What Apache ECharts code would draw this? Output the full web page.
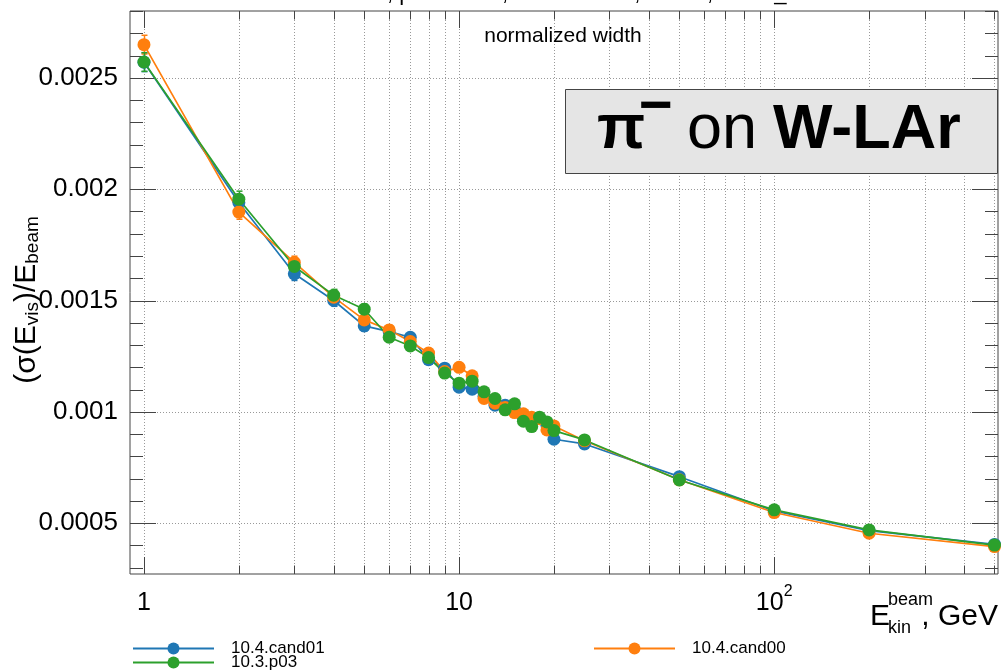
<!DOCTYPE html>
<html><head><meta charset="utf-8">
<script src="https://cdn.jsdelivr.net/npm/echarts@6/dist/echarts.min.js"></script>
<style>html,body{margin:0;padding:0;background:#fff}#c{width:1002px;height:670px}</style>
</head><body><div id="c"></div>
<script>
// ---- data ----
const energies = [1,2,3,4,5,6,7,8,9,10,11,12,13,14,15,16,17,18,19,20,25,50,100,200,500];
const cand01 = [0.00257,0.00194,0.00162,0.00150,0.001386,0.00136,0.001335,0.001234,0.001196,0.001111,0.001102,0.00107,0.00103,0.00103,0.00101,0.00097,0.00096,0.00097,0.00094,0.000877,0.000856,0.000709,0.000555,0.000467,0.000405];
const cand00 = [0.002649,0.001897,0.001671,0.001515,0.001413,0.001368,0.001316,0.001264,0.001181,0.0012,0.001162,0.00106,0.001039,0.00102,0.000997,0.000991,0.000976,0.000969,0.000919,0.000937,0.00087,0.000695,0.000548,0.000455,0.000395];
const p03 = [0.002571,0.001955,0.001653,0.001524,0.001461,0.001335,0.001296,0.001244,0.001174,0.001129,0.001138,0.00109,0.00106,0.001009,0.001036,0.000958,0.000934,0.000976,0.000955,0.000916,0.000874,0.000694,0.00056,0.00047,0.000402];
const err01 = [0.000042,0.000036,0.00003,0.000026,0.000024,0.000022,0.00002,0.000019,0.000018,0.000017,0.000017,0.000016,0.000016,0.000015,0.000015,0.000015,0.000014,0.000014,0.000014,0.000013,0.000012,0.00001,0.000008,0.000007,0.000006];
const err00 = [0.000042,0.000032,0.000028,0.000026,0.000024,0.000022,0.00002,0.000019,0.000018,0.000017,0.000017,0.000016,0.000016,0.000015,0.000015,0.000015,0.000014,0.000014,0.000014,0.000013,0.000012,0.00001,0.000008,0.000007,0.000006];
const errp03 = [0.000042,0.000036,0.00003,0.000026,0.000024,0.000022,0.00002,0.000019,0.000018,0.000017,0.000017,0.000016,0.000016,0.000015,0.000015,0.000015,0.000014,0.000014,0.000014,0.000013,0.000012,0.00001,0.000008,0.000007,0.000006];
const seriesNames = ['10.4.cand01','10.3.p03','10.4.cand00'];
const xGridValues = [1,2,3,4,5,6,7,8,9,10,20,30,40,50,60,70,80,90,100,200,300,400,500];
const yTickValues = [0.0003,0.0004,0.0005,0.0006,0.0007,0.0008,0.0009,0.001,0.0011,0.0012,0.0013,0.0014,0.0015,0.0016,0.0017,0.0018,0.0019,0.002,0.0021,0.0022,0.0023,0.0024,0.0025,0.0026,0.0027,0.0028];
const yMajorStep = 0.0005;
const X_MIN = 0.903, X_MAX = 513, Y_MIN = 0.000272, Y_MAX = 0.0028;

const FONT = 'Liberation Sans, Arial, Helvetica, sans-serif';
const C_BLUE = '#1f77b4', C_ORANGE = '#ff7f0e', C_GREEN = '#2ca02c';

const chart = echarts.init(document.getElementById('c'), null, {renderer: 'canvas'});

function px(v){ return Math.round(v) + 0.5; }

function renderXGrid(params, api){
  const v = api.value(0);
  const p = api.coord([v, Y_MIN]);
  const cs = params.coordSys;
  const x = px(p[0]);
  const top = cs.y, bot = cs.y + cs.height;
  const lg = Math.log10(v);
  const major = Math.abs(lg - Math.round(lg)) < 1e-9;
  const L = major ? 17 : 8.5;
  return {type: 'group', children: [
    {type: 'line', shape: {x1: x, y1: top, x2: x, y2: bot}, style: {stroke: '#999', lineWidth: 1, lineDash: [1, 2]}},
    {type: 'line', shape: {x1: x, y1: bot, x2: x, y2: bot - L}, style: {stroke: '#444', lineWidth: 1}},
    {type: 'line', shape: {x1: x, y1: top, x2: x, y2: top + L}, style: {stroke: '#444', lineWidth: 1}}
  ]};
}
function renderYGrid(params, api){
  const v = api.value(1);
  const p = api.coord([1, v]);
  const cs = params.coordSys;
  const y = px(p[1]);
  const l = cs.x, r = cs.x + cs.width;
  const k = Math.round(v / yMajorStep);
  const major = Math.abs(v - k * yMajorStep) < 1e-9;
  const L = major ? 26 : 13;
  const ch = [
    {type: 'line', shape: {x1: l, y1: y, x2: l + L, y2: y}, style: {stroke: '#444', lineWidth: 1}},
    {type: 'line', shape: {x1: r, y1: y, x2: r - L, y2: y}, style: {stroke: '#444', lineWidth: 1}}
  ];
  if (major) ch.unshift({type: 'line', shape: {x1: l, y1: y, x2: r, y2: y}, style: {stroke: '#999', lineWidth: 1, lineDash: [1, 2]}});
  return {type: 'group', children: ch};
}
function makeErr(color){
  return function(params, api){
    const x = api.value(0), y = api.value(1), e = api.value(2);
    const a = api.coord([x, y - e]), b = api.coord([x, y + e]);
    const cx = px(a[0]);
    return {type: 'group', children: [
      {type: 'line', shape: {x1: cx, y1: a[1], x2: cx, y2: b[1]}, style: {stroke: color, lineWidth: 1.5}},
      {type: 'line', shape: {x1: cx - 3, y1: a[1], x2: cx + 3, y2: a[1]}, style: {stroke: color, lineWidth: 1.5}},
      {type: 'line', shape: {x1: cx - 3, y1: b[1], x2: cx + 3, y2: b[1]}, style: {stroke: color, lineWidth: 1.5}}
    ]};
  };
}
function lineSeries(name, vals, color){
  return {
    name: name, type: 'line', data: energies.map((e, i) => [e, vals[i]]),
    symbol: 'circle', symbolSize: 13, showAllSymbol: true,
    lineStyle: {color: color, width: 1.7}, itemStyle: {color: color},
    emphasis: {disabled: true}, z: 3
  };
}
function errSeries(vals, errs, color){
  return {
    type: 'custom', renderItem: makeErr(color), encode: {x: 0, y: 1},
    data: energies.map((e, i) => [e, vals[i], errs[i]]), z: 3, silent: true
  };
}

const legendBase = {
  itemWidth: 81, itemHeight: 15,
  textStyle: {fontFamily: FONT, fontSize: 17, color: '#000', padding: [0, 0, 0, 12]},
  selectedMode: false
};

const option = {
  animation: false,
  backgroundColor: '#fff',
  grid: {left: 130, top: 11, width: 868, height: 563, show: true, borderColor: '#444', borderWidth: 1, backgroundColor: 'transparent', containLabel: false, outerBoundsMode: 'none'},
  xAxis: {
    type: 'log', logBase: 10, min: X_MIN, max: X_MAX,
    axisLine: {show: false}, axisTick: {show: false}, splitLine: {show: false}, minorTick: {show: false},
    axisLabel: {
      margin: 10, color: '#000', fontFamily: FONT, fontSize: 25, showMinLabel: false, showMaxLabel: false,
      formatter: function(v){
        const lg = Math.log10(v);
        const r = Math.round(lg);
        if (Math.abs(lg - r) > 1e-6) return '';
        if (r === 0) return '{n|1}';
        if (r === 1) return '{n|10}';
        return '{n|10}{p|' + r + '}';
      },
      rich: {
        n: {fontFamily: FONT, fontSize: 25, color: '#000', lineHeight: 32, verticalAlign: 'bottom'},
        p: {fontFamily: FONT, fontSize: 16, color: '#000', lineHeight: 16, verticalAlign: 'top'}
      }
    }
  },
  yAxis: {
    type: 'value', min: Y_MIN, max: Y_MAX, splitNumber: 5,
    axisLine: {show: false}, axisTick: {show: false}, splitLine: {show: false},
    axisLabel: {
      margin: 12, color: '#000', fontFamily: FONT, fontSize: 26, showMinLabel: false, showMaxLabel: false,
      formatter: function(v){
        const k = Math.round(v / yMajorStep);
        if (k > 0 && Math.abs(v - k * yMajorStep) < 1e-9) return String(+(k * yMajorStep).toFixed(4));
        return '';
      }
    }
  },
  legend: [
    Object.assign({}, legendBase, {data: [seriesNames[0]], left: 127, top: 635}),
    Object.assign({}, legendBase, {data: [seriesNames[1]], left: 127, top: 649}),
    Object.assign({}, legendBase, {data: [seriesNames[2]], left: 588, top: 635})
  ],
  series: [
    {type: 'custom', renderItem: renderXGrid, encode: {x: 0, y: 1}, data: xGridValues.map(v => [v, Y_MIN]), z: 1, silent: true, clip: false},
    {type: 'custom', renderItem: renderYGrid, encode: {x: 0, y: 1}, data: yTickValues.map(v => [1, v]), z: 1, silent: true, clip: false},
    errSeries(cand01, err01, C_BLUE),
    lineSeries(seriesNames[0], cand01, C_BLUE),
    errSeries(cand00, err00, C_ORANGE),
    lineSeries(seriesNames[2], cand00, C_ORANGE),
    errSeries(p03, errp03, C_GREEN),
    lineSeries(seriesNames[1], p03, C_GREEN)
  ],
  graphic: [
    {type: 'text', x: 564, y: -6, z: 10, style: {text: 'Resolution, pion beam, Geant4 10.x, W-LAr, FTFP_BERT', fontFamily: FONT, fontSize: 22, fill: '#000', align: 'center', verticalAlign: 'middle'}},
    {type: 'text', x: 563, y: 36, z: 10, style: {text: 'normalized width', fontFamily: FONT, fontSize: 21, fill: '#000', align: 'center', verticalAlign: 'middle'}},
    {type: 'rect', z: 10, shape: {x: 565.5, y: 89.5, width: 432, height: 84}, style: {fill: '#e5e5e5', stroke: '#444', lineWidth: 1}},
    {type: 'text', x: 597, y: 131, z: 11, style: {text: 'π', fontFamily: FONT, fontWeight: 'bold', fontSize: 63, fill: '#000', align: 'left', verticalAlign: 'middle'}},
    {type: 'text', x: 639, y: 108, z: 11, style: {text: '−', fontFamily: FONT, fontWeight: 'bold', fontSize: 58, fill: '#000', align: 'left', verticalAlign: 'middle'}},
    {type: 'text', x: 687, y: 131, z: 11, style: {text: 'on', fontFamily: FONT, fontSize: 63, fill: '#000', align: 'left', verticalAlign: 'middle'}},
    {type: 'text', x: 773, y: 131, z: 11, style: {text: 'W-LAr', fontFamily: FONT, fontWeight: 'bold', fontSize: 63, fill: '#000', align: 'left', verticalAlign: 'middle'}},
    {type: 'text', x: 27, y: 300, rotation: Math.PI / 2, z: 10, style: {
      text: '{m|(σ(E}{s|vis}{m|)/E}{s|beam}', align: 'center', verticalAlign: 'middle',
      rich: {
        m: {fontFamily: FONT, fontSize: 30, fill: '#000', lineHeight: 31, verticalAlign: 'top'},
        s: {fontFamily: FONT, fontSize: 19, fill: '#000', lineHeight: 19, verticalAlign: 'bottom', padding: [23, 0, 0, 0]}
      }
    }},
    {type: 'text', x: 870, y: 617, z: 10, style: {text: 'E', fontFamily: FONT, fontSize: 30, fill: '#000', align: 'left', verticalAlign: 'middle'}},
    {type: 'text', x: 888, y: 600, z: 10, style: {text: 'beam', fontFamily: FONT, fontSize: 18, fill: '#000', align: 'left', verticalAlign: 'middle'}},
    {type: 'text', x: 888, y: 628, z: 10, style: {text: 'kin', fontFamily: FONT, fontSize: 18, fill: '#000', align: 'left', verticalAlign: 'middle'}},
    {type: 'text', x: 998, y: 617, z: 10, style: {text: ', GeV', fontFamily: FONT, fontSize: 30, fill: '#000', align: 'right', verticalAlign: 'middle'}}
  ]
};
chart.setOption(option);
</script>
</body></html>
